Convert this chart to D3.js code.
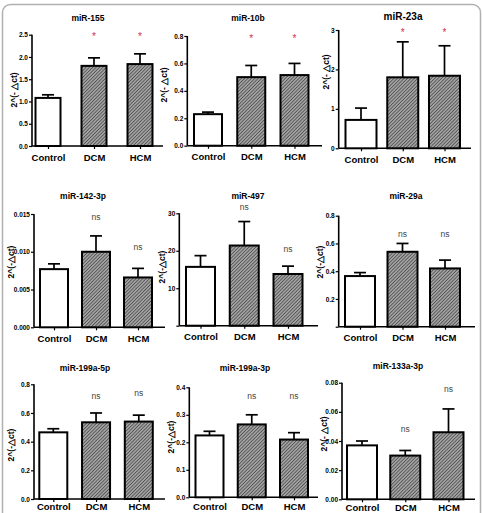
<!DOCTYPE html>
<html><head><meta charset="utf-8">
<script src="https://cdn.jsdelivr.net/npm/d3@7"></script>
<style>
html,body{margin:0;padding:0;background:#fff;}
svg{display:block;}
text{font-family:"Liberation Sans Narrow","Arial Narrow","Liberation Sans",Arial,sans-serif;}
</style></head>
<body>
<svg id="chart" width="483" height="513"></svg>
<script>
// ---------- data ----------
const categories = ["Control", "DCM", "HCM"];
const panelTitles = ["miR-155", "miR-10b", "miR-23a", "miR-142-3p", "miR-497", "miR-29a", "miR-199a-5p", "miR-199a-3p", "miR-133a-3p"];
const meanValues = [
  [1.08, 1.80, 1.84],
  [0.23, 0.50, 0.515],
  [0.72, 1.80, 1.84],
  [0.0077, 0.0100, 0.0066],
  [15.7, 21.4, 13.8],
  [0.365, 0.54, 0.42],
  [0.465, 0.535, 0.54],
  [0.225, 0.265, 0.21],
  [0.037, 0.030, 0.046]
];
const errorTops = [
  [1.15, 1.98, 2.07],
  [0.245, 0.585, 0.60],
  [1.02, 2.70, 2.60],
  [0.0084, 0.0121, 0.0078],
  [18.7, 27.8, 15.9],
  [0.39, 0.60, 0.48],
  [0.49, 0.60, 0.585],
  [0.24, 0.30, 0.235],
  [0.040, 0.0335, 0.062]
];
const yMaxValues = [2.5, 0.8, 3, 0.015, 30, 0.8, 0.8, 0.4, 0.08];
const yTickValues = [
  [0, 0.5, 1.0, 1.5, 2.0, 2.5],
  [0, 0.2, 0.4, 0.6, 0.8],
  [0, 1, 2, 3],
  [0, 0.005, 0.010, 0.015],
  [0, 10, 20, 30],
  [0, 0.2, 0.4, 0.6, 0.8],
  [0, 0.2, 0.4, 0.6, 0.8],
  [0, 0.1, 0.2, 0.3, 0.4],
  [0, 0.02, 0.04, 0.06, 0.08]
];
const yTickFormats = [".1f", ".1f", "d", ".3f", "d", ".1f", ".1f", ".1f", ".2f"];
const hideZeroLabel = [false, false, false, false, true, true, false, false, false];
const yAxisLabels = ["2^(- \u25B3ct)", "2^(- \u25B3ct)", "2^(- \u25B3ct)", "2^(-\u25B3ct)", "2^(-\u25B3ct)", "2^(-\u25B3ct)", "2^(-\u25B3ct)", "2^(-\u25B3ct)", "2^(- \u25B3ct)"];
// significance marks: [category, text, y value]
const significance = [
  [["DCM", "*", 2.5], ["HCM", "*", 2.5]],
  [["DCM", "*", 0.80], ["HCM", "*", 0.80]],
  [["DCM", "*", 3.0], ["HCM", "*", 3.0]],
  [["DCM", "ns", 0.0145], ["HCM", "ns", 0.0105]],
  [["DCM", "ns", 31.4], ["HCM", "ns", 20.2]],
  [["DCM", "ns", 0.666], ["HCM", "ns", 0.666]],
  [["DCM", "ns", 0.713], ["HCM", "ns", 0.732]],
  [["DCM", "ns", 0.366], ["HCM", "ns", 0.366]],
  [["DCM", "ns", 0.0475], ["HCM", "ns", 0.075]]
];

// ---------- layout (pixels) ----------
const layout = [
  {ax: 32,    top: 34.7,  bot: 146,   c0: 48,    c2: 140,   bw: 25, xEnd: 163, tx: 88,  ty: 19,  tsize: 8.5, lx: 15,  ly: 90,  pad: 5},
  {ax: 187.3, top: 36,    bot: 145.7, c0: 208,   c2: 294.5, bw: 28, xEnd: 322, tx: 248, ty: 19,  tsize: 8.5, lx: 165, ly: 85,  pad: 5},
  {ax: 338.7, top: 30,    bot: 148.3, c0: 361,   c2: 444.5, bw: 31, xEnd: 471, tx: 403, ty: 17,  tsize: 10,  lx: 327, ly: 72,  pad: 5},
  {ax: 34,    top: 214,   bot: 327.3, c0: 54,    c2: 138,   bw: 28, xEnd: 165, tx: 83,  ty: 197, tsize: 8.5, lx: 12,  ly: 262, pad: 5},
  {ax: 179.3, top: 213.3, bot: 325.7, c0: 200.5, c2: 288,   bw: 29, xEnd: 318, tx: 248, ty: 197, tsize: 8.5, lx: 163, ly: 267, pad: 5},
  {ax: 338.7, top: 215.7, bot: 326.7, c0: 360,   c2: 445,   bw: 30, xEnd: 475, tx: 406, ty: 197, tsize: 8.5, lx: 321, ly: 262, pad: 5},
  {ax: 34,    top: 384.3, bot: 499,   c0: 53.3,  c2: 138.8, bw: 28, xEnd: 165, tx: 85,  ty: 369, tsize: 8.5, lx: 12,  ly: 445, pad: 1.5},
  {ax: 189.3, top: 387.3, bot: 497.3, c0: 209.5, c2: 294,   bw: 28, xEnd: 318, tx: 245, ty: 369, tsize: 8.5, lx: 172, ly: 437, pad: 2.5},
  {ax: 342,   top: 382.7, bot: 499.3, c0: 362,   c2: 448.5, bw: 30, xEnd: 475, tx: 398, ty: 367, tsize: 8.5, lx: 325, ly: 434, pad: 1.5}
];

const svg = d3.select("#chart");
const defs = svg.append("defs");
const pat = defs.append("pattern").attr("id", "hatch")
  .attr("patternUnits", "userSpaceOnUse").attr("width", 2.4).attr("height", 2.4)
  .attr("patternTransform", "rotate(45)");
pat.append("rect").attr("width", 2.4).attr("height", 2.4).attr("fill", "#a2a2a2");
pat.append("line").attr("x1", 0).attr("y1", 0).attr("x2", 0).attr("y2", 2.4)
  .attr("stroke", "#2a2a2a").attr("stroke-width", 1.1);

// outer frame
svg.append("rect").attr("x", 2.5).attr("y", 4.5).attr("width", 478).attr("height", 540)
  .attr("rx", 8).attr("fill", "none").attr("stroke", "#b0b0b0").attr("stroke-width", 1.5);

panelTitles.forEach((title, i) => {
  const L = layout[i];
  const g = svg.append("g");
  const y = d3.scaleLinear().domain([0, yMaxValues[i]]).range([L.bot, L.top]);
  const x = d3.scalePoint().domain(categories).range([L.c0, L.c2]);
  const fmt = d3.format(yTickFormats[i]);

  // y axis
  const yAxis = d3.axisLeft(y).tickValues(yTickValues[i]).tickSize(3).tickPadding(1)
    .tickFormat(d => (hideZeroLabel[i] && d === 0) ? "" : fmt(d));
  const ya = g.append("g").attr("transform", `translate(${L.ax},0)`).call(yAxis);
  ya.select(".domain").attr("stroke", "#000").attr("stroke-width", 1.6).attr("d", `M0,${L.top}V${L.bot}`);
  ya.selectAll(".tick line").attr("stroke", "#000").attr("stroke-width", 1.2);
  ya.selectAll(".tick text").attr("font-size", 6.5).attr("font-weight", "bold").attr("fill", "#000")
    .style("font-family", "'Liberation Sans Narrow','Liberation Sans',Arial,sans-serif");

  // x axis
  const xAxis = d3.axisBottom(x).tickSize(3).tickPadding(L.pad);
  const xa = g.append("g").attr("transform", `translate(0,${L.bot})`).call(xAxis);
  xa.select(".domain").attr("stroke", "#000").attr("stroke-width", 1.6).attr("d", `M${L.ax},0H${L.xEnd}`);
  xa.selectAll(".tick line").attr("stroke", "#000").attr("stroke-width", 1.2);
  xa.selectAll(".tick text").attr("font-size", 9.5).attr("font-weight", "bold").attr("fill", "#000")
    .style("font-family", "'Liberation Sans Narrow','Liberation Sans',Arial,sans-serif");

  // error bars
  categories.forEach((c, k) => {
    const cx = x(c);
    g.append("line").attr("x1", cx).attr("x2", cx)
      .attr("y1", y(meanValues[i][k])).attr("y2", y(errorTops[i][k]))
      .attr("stroke", "#000").attr("stroke-width", 1.7);
    g.append("line").attr("x1", cx - 6).attr("x2", cx + 6)
      .attr("y1", y(errorTops[i][k])).attr("y2", y(errorTops[i][k]))
      .attr("stroke", "#000").attr("stroke-width", 1.7);
  });

  // bars
  g.selectAll("rect.bar").data(categories).join("rect").attr("class", "bar")
    .attr("x", c => x(c) - L.bw / 2).attr("width", L.bw)
    .attr("y", (c, k) => y(meanValues[i][k]))
    .attr("height", (c, k) => L.bot - y(meanValues[i][k]))
    .attr("fill", (c, k) => k === 0 ? "#fff" : "url(#hatch)")
    .attr("stroke", "#000").attr("stroke-width", 2);

  // title
  g.append("text").attr("x", L.tx).attr("y", L.ty).attr("text-anchor", "middle")
    .attr("dominant-baseline", "middle").attr("font-size", L.tsize).attr("font-weight", "bold")
    .text(title);

  // y label
  g.append("text").attr("transform", `translate(${L.lx},${L.ly}) rotate(-90)`)
    .attr("text-anchor", "middle").attr("dominant-baseline", "middle")
    .attr("font-size", 8.5).attr("font-weight", "bold").text(yAxisLabels[i]);

  // significance
  significance[i].forEach(([c, t, v]) => {
    g.append("text").attr("x", x(c)).attr("y", y(v) + (t === "*" ? 3 : 0))
      .attr("text-anchor", "middle").attr("dominant-baseline", "middle")
      .attr("font-size", t === "*" ? 10 : 8.5)
      .attr("fill", t === "*" ? "#d0304a" : "#444")
      .text(t);
  });
});
</script>
</body></html>
